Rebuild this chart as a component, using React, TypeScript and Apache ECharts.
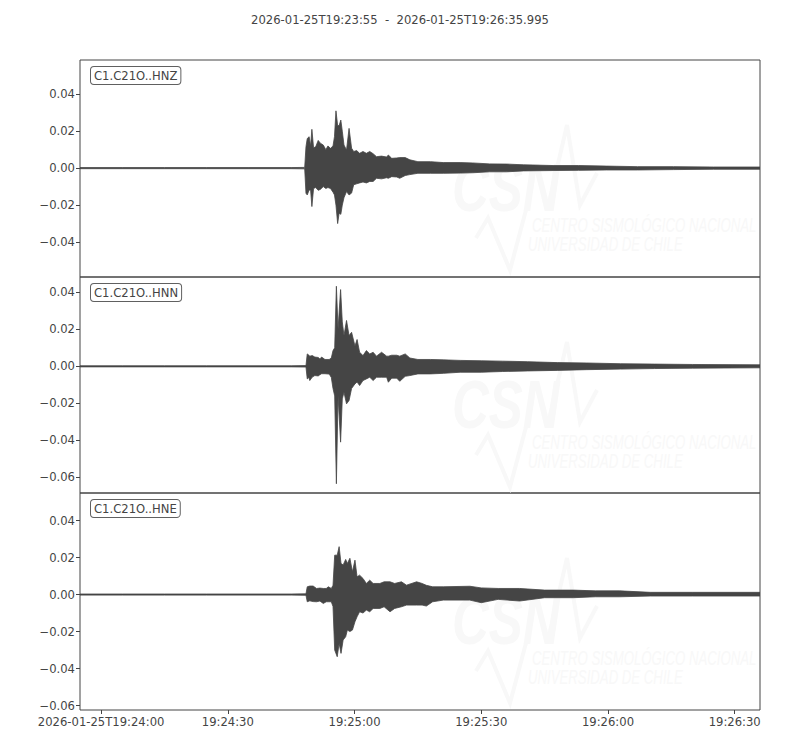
import { useEffect, useRef } from "react";
import * as echarts from "echarts";

// seconds after 2026-01-25T19:23:55
const START_LABEL = "2026-01-25T19:23:55";
const END_LABEL = "2026-01-25T19:26:35.995";
const END_SECONDS = 160.995;

const X_TICKS = [5, 35, 65, 95, 125, 155];
const X_TICK_LABELS = [
  "2026-01-25T19:24:00",
  "19:24:30",
  "19:25:00",
  "19:25:30",
  "19:26:00",
  "19:26:30",
];

const CHANNELS = ["C1.C21O..HNZ", "C1.C21O..HNN", "C1.C21O..HNE"];

// per channel envelope (max / min of the trace around each time)
const HNZ_T = [0, 10, 20, 30, 40, 50, 53.2, 53.5, 53.8, 54.25, 54.6, 54.9, 55.3, 55.8, 56.4, 56.9, 57.6, 58.2, 58.7, 59.3, 59.9, 60.25, 60.6, 61.0, 61.35, 61.75, 62.1, 62.5, 63.1, 63.7, 64.3, 64.8, 65.5, 66.2, 67.0, 67.8, 68.6, 69.4, 70.2, 71.4, 72.6, 73.0, 73.8, 75.0, 75.7, 77.0, 78.1, 80, 83, 86, 90, 93, 97, 101, 105, 112, 118, 124.7, 132, 140.5, 150, 161];
const HNZ_MAX = [0.0003, 0.0003, 0.0003, 0.0003, 0.0003, 0.0003, 0.0004, 0.0116, 0.016, 0.017, 0.012, 0.021, 0.011, 0.0115, 0.015, 0.0135, 0.0125, 0.01, 0.012, 0.0107, 0.012, 0.017, 0.031, 0.023, 0.023, 0.026, 0.02, 0.0125, 0.0098, 0.0215, 0.0108, 0.009, 0.0095, 0.008, 0.009, 0.008, 0.009, 0.0078, 0.0062, 0.0065, 0.006, 0.0071, 0.0053, 0.0055, 0.0057, 0.0057, 0.0045, 0.0035, 0.0035, 0.003, 0.003, 0.0028, 0.0023, 0.0022, 0.0018, 0.0014, 0.0014, 0.0011, 0.0008, 0.0008, 0.0006, 0.0006];
const HNZ_MIN = [-0.0003, -0.0003, -0.0003, -0.0003, -0.0003, -0.0003, -0.0004, -0.0136, -0.0145, -0.0118, -0.012, -0.0208, -0.011, -0.0105, -0.012, -0.0115, -0.01, -0.011, -0.0105, -0.011, -0.013, -0.0145, -0.02, -0.03, -0.0244, -0.025, -0.02, -0.016, -0.0127, -0.0145, -0.0135, -0.009, -0.0085, -0.008, -0.0075, -0.008, -0.0072, -0.0072, -0.0055, -0.0058, -0.0052, -0.0055, -0.0046, -0.0048, -0.0055, -0.004, -0.0035, -0.0028, -0.0028, -0.0028, -0.0027, -0.0025, -0.002, -0.002, -0.0015, -0.0013, -0.0012, -0.001, -0.001, -0.0008, -0.0006, -0.0006];

const HNN_T = [0, 10, 20, 30, 40, 50, 53.5, 53.8, 54.2, 54.4, 55.0, 55.6, 56.4, 56.8, 57.2, 58.0, 59.0, 59.5, 59.9, 60.3, 60.7, 61.1, 61.7, 62.1, 62.5, 63.1, 63.7, 64.3, 65.1, 65.6, 66.2, 67.0, 67.8, 68.6, 69.4, 70.2, 71.4, 72.6, 73.0, 73.8, 75.0, 75.7, 77.0, 78.1, 80, 83, 86, 90, 95, 100, 106, 113, 120, 128, 136, 145, 161];
const HNN_MAX = [0.0003, 0.0003, 0.0003, 0.0003, 0.0003, 0.0003, 0.0004, 0.0067, 0.006, 0.0055, 0.0058, 0.005, 0.0048, 0.004, 0.005, 0.0037, 0.0037, 0.0045, 0.0085, 0.01, 0.0433, 0.02, 0.0415, 0.024, 0.0166, 0.0248, 0.0166, 0.0184, 0.011, 0.0145, 0.0076, 0.0058, 0.0085, 0.0067, 0.0076, 0.0055, 0.0076, 0.0055, 0.0055, 0.006, 0.006, 0.0055, 0.0067, 0.0045, 0.0037, 0.0037, 0.0035, 0.0032, 0.003, 0.0028, 0.0025, 0.002, 0.0018, 0.0014, 0.0012, 0.001, 0.0008];
const HNN_MIN = [-0.0003, -0.0003, -0.0003, -0.0003, -0.0003, -0.0003, -0.0004, -0.0068, -0.006, -0.0077, -0.0058, -0.005, -0.0052, -0.0045, -0.004, -0.004, -0.0042, -0.006, -0.012, -0.016, -0.0635, -0.016, -0.041, -0.0176, -0.014, -0.0203, -0.0185, -0.012, -0.0095, -0.0085, -0.0104, -0.0077, -0.0068, -0.0059, -0.0077, -0.0059, -0.0059, -0.0059, -0.0086, -0.0064, -0.0064, -0.0081, -0.0054, -0.005, -0.0041, -0.0041, -0.0038, -0.0032, -0.0032, -0.0028, -0.0025, -0.0022, -0.0018, -0.0015, -0.0012, -0.001, -0.0008];

const HNE_T = [0, 10, 20, 30, 40, 50, 53.5, 53.8, 54.4, 55.2, 56.0, 56.8, 57.6, 58.3, 58.8, 59.5, 59.9, 60.3, 60.9, 61.35, 61.8, 62.3, 62.9, 63.3, 63.9, 64.5, 65.1, 65.6, 66.2, 67.0, 67.8, 68.6, 69.4, 71.0, 72.0, 73.4, 74.5, 76.1, 77.3, 79.7, 81.0, 82.0, 83.5, 86, 92.3, 95, 99, 104.1, 110, 116.8, 122, 127.8, 135, 145, 161];
const HNE_MAX = [0.0003, 0.0003, 0.0003, 0.0003, 0.0003, 0.0003, 0.0004, 0.0042, 0.0046, 0.0046, 0.0033, 0.0035, 0.0033, 0.0033, 0.0042, 0.0033, 0.005, 0.0213, 0.0213, 0.0259, 0.0168, 0.016, 0.019, 0.0168, 0.0196, 0.0123, 0.0186, 0.0096, 0.0105, 0.0087, 0.006, 0.0078, 0.006, 0.006, 0.0069, 0.0069, 0.006, 0.0069, 0.0051, 0.0069, 0.006, 0.005, 0.0042, 0.0042, 0.0045, 0.0036, 0.0033, 0.0033, 0.0024, 0.0024, 0.002, 0.002, 0.0012, 0.0012, 0.0012];
const HNE_MIN = [-0.0003, -0.0003, -0.0003, -0.0003, -0.0003, -0.0003, -0.0004, -0.0039, -0.0034, -0.0038, -0.0039, -0.0035, -0.0048, -0.0039, -0.0039, -0.0039, -0.0065, -0.03, -0.0336, -0.0264, -0.0318, -0.0246, -0.0228, -0.0192, -0.02, -0.0192, -0.0147, -0.012, -0.0093, -0.01, -0.0084, -0.0093, -0.0075, -0.0075, -0.0066, -0.0093, -0.0075, -0.0066, -0.0057, -0.0057, -0.0057, -0.0062, -0.0039, -0.003, -0.003, -0.0044, -0.0026, -0.0035, -0.0017, -0.0017, -0.0012, -0.0012, -0.0008, -0.0008, -0.0008];

const Y_RANGES = [
  [-0.0589, 0.0585],
  [-0.0685, 0.0483],
  [-0.0624, 0.0549],
];
const Y_TICKS = [
  [-0.04, -0.02, 0, 0.02, 0.04],
  [-0.06, -0.04, -0.02, 0, 0.02, 0.04],
  [-0.06, -0.04, -0.02, 0, 0.02, 0.04],
];

const TRACES = [
  { t: HNZ_T, max: HNZ_MAX, min: HNZ_MIN },
  { t: HNN_T, max: HNN_MAX, min: HNN_MIN },
  { t: HNE_T, max: HNE_MAX, min: HNE_MIN },
];

const PANEL_TOPS = [60, 277, 493];
const PANEL_HEIGHTS = [217, 216, 217];
const LEFT = 80;
const WIDTH = 680;

const INK = "#444444";
const WAVE = "#454545";
const MARK = "#f8f8f8";
const FONT = "DejaVu Sans";

const fmtY = (v: number) => (v < -1e-9 ? "\u2212" : "") + Math.abs(v).toFixed(2);

function watermark(top: number) {
  return {
    type: "group",
    x: 0,
    y: top,
    silent: true,
    z: 0,
    children: [
      {
        type: "text",
        x: 452,
        y: 94,
        scaleX: 0.75,
        style: {
          text: "CSN",
          font: "italic bold 68px 'Liberation Sans'",
          fill: MARK,
          verticalAlign: "top",
        },
      },
      {
        type: "polyline",
        shape: { points: [[548, 147], [567, 65], [580, 145], [597, 113]] },
        style: { stroke: MARK, lineWidth: 4, fill: "none" },
      },
      {
        type: "polyline",
        shape: { points: [[476, 178], [488, 158], [510, 210], [526, 150]] },
        style: { stroke: MARK, lineWidth: 4, fill: "none" },
      },
      {
        type: "text",
        x: 532,
        y: 155,
        scaleX: 0.66,
        style: {
          text: "CENTRO SISMOLÓGICO NACIONAL",
          font: "italic 20px 'Liberation Sans'",
          fill: MARK,
          verticalAlign: "top",
        },
      },
      {
        type: "text",
        x: 528,
        y: 174,
        scaleX: 0.66,
        style: {
          text: "UNIVERSIDAD DE CHILE",
          font: "italic 20px 'Liberation Sans'",
          fill: MARK,
          verticalAlign: "top",
        },
      },
    ],
  };
}

const App: React.FC = () => {
  const chartRef = useRef<HTMLDivElement>(null);

  useEffect(() => {
    if (!chartRef.current) return;
    const chart = echarts.init(chartRef.current, null, { renderer: "svg" });

    const grids = PANEL_TOPS.map((top, i) => ({
      left: LEFT,
      top,
      width: WIDTH,
      height: PANEL_HEIGHTS[i],
      show: true,
      borderColor: INK,
      borderWidth: 1,
      backgroundColor: "transparent",
      containLabel: false,
    }));

    const xAxes = PANEL_TOPS.map((_, i) => {
      const bottom = i === PANEL_TOPS.length - 1;
      return {
        type: "value",
        gridIndex: i,
        position: "bottom",
        min: 0,
        max: END_SECONDS,
        axisLine: { show: false, onZero: false },
        splitLine: { show: false },
        axisTick: {
          show: bottom,
          length: 4,
          customValues: X_TICKS,
          lineStyle: { color: INK, width: 1 },
        },
        axisLabel: {
          show: bottom,
          customValues: X_TICKS,
          color: INK,
          fontFamily: FONT,
          fontSize: 11.6,
          margin: 6,
          formatter: (v: number) => {
            const k = X_TICKS.findIndex((x) => Math.abs(x - v) < 1e-6);
            return k >= 0 ? X_TICK_LABELS[k] : "";
          },
        },
      };
    });

    const yAxes = PANEL_TOPS.map((_, i) => ({
      type: "value",
      gridIndex: i,
      position: "left",
      min: Y_RANGES[i][0],
      max: Y_RANGES[i][1],
      axisLine: { show: false, onZero: false },
      splitLine: { show: false },
      axisTick: {
        show: true,
        length: 4,
        customValues: Y_TICKS[i],
        lineStyle: { color: INK, width: 1 },
      },
      axisLabel: {
        customValues: Y_TICKS[i],
        color: INK,
        fontFamily: FONT,
        fontSize: 11.6,
        margin: 5,
        formatter: fmtY,
      },
    }));

    const series = TRACES.map((tr, i) => ({
      type: "custom",
      xAxisIndex: i,
      yAxisIndex: i,
      clip: true,
      silent: true,
      z: 3,
      data: [[tr.t[0], 0]],
      encode: { x: 0, y: 1 },
      renderItem: (_params: any, api: any) => {
        const pts: number[][] = [];
        for (let k = 0; k < tr.t.length; k++) pts.push(api.coord([tr.t[k], tr.max[k]]));
        for (let k = tr.t.length - 1; k >= 0; k--) pts.push(api.coord([tr.t[k], tr.min[k]]));
        return {
          type: "polygon",
          shape: { points: pts },
          style: { fill: WAVE, stroke: WAVE, lineWidth: 0.8 },
        };
      },
    }));

    const labels = CHANNELS.map((name, i) => ({
      type: "text",
      x: 91,
      y: PANEL_TOPS[i] + 7,
      z: 10,
      silent: true,
      style: {
        text: name,
        font: `11.6px '${FONT}'`,
        fill: INK,
        verticalAlign: "top",
        align: "left",
        backgroundColor: "#ffffff",
        borderColor: "#606060",
        borderWidth: 1,
        borderRadius: 3,
        padding: [3, 3, 2, 3],
      },
    }));

    const option = {
      animation: false,
      backgroundColor: "#ffffff",
      grid: grids,
      xAxis: xAxes,
      yAxis: yAxes,
      series,
      graphic: [
        ...PANEL_TOPS.map((top) => watermark(top)),
        ...labels,
        {
          type: "text",
          x: 400,
          y: 20,
          silent: true,
          style: {
            text: `${START_LABEL}  -  ${END_LABEL}`,
            font: `11.6px '${FONT}'`,
            fill: INK,
            align: "center",
            verticalAlign: "middle",
          },
        },
      ],
    };

    chart.setOption(option);

    return () => {
      chart.dispose();
    };
  }, []);

  return (
    <div
      ref={chartRef}
      style={{ position: "absolute", left: 0, top: 0, width: "800px", height: "750px" }}
    />
  );
};

export default App;
